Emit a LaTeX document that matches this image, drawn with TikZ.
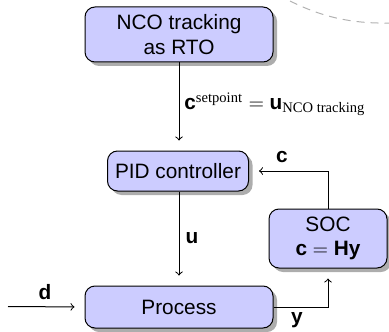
\documentclass[tikz,border=0pt]{standalone}
\usepackage{amsmath}
\usepackage{fontspec}
\setmainfont{Liberation Sans}
\newfontfamily\serifrm{Liberation Serif}
\usetikzlibrary{shadows}
\tikzset{
  blk/.style={draw=black, line width=0.5pt, fill=blue!20, rounded corners=5pt,
    inner sep=0pt, align=center,
    drop shadow={shadow xshift=2pt, shadow yshift=-2pt, fill=black!32, opacity=1}},
  arr/.style={->, line width=0.5pt, shorten >=5pt},
  lbl/.style={inner sep=0pt},
  dasharc/.style={draw=black!30, line width=0.5pt, dash pattern=on 4pt off 3pt}
}
\begin{document}
\begin{tikzpicture}[x=0.5pt, y=-0.5pt, font=\fontsize{10.4}{12.3}\selectfont]
\path[use as bounding box] (0,0) rectangle (389,331);
\draw[dasharc] (290,1) .. controls (322,17) and (352,24) .. (392,23);

\node[blk, minimum width=94pt, minimum height=27.5pt] (nco) at (179,34.5) {NCO tracking\\as RTO};
\node[blk, minimum width=70.5pt, minimum height=20pt] (pid) at (178,171) {PID controller};
\node[blk, minimum width=59pt, minimum height=29.5pt] (soc) at (328,238.5) {SOC\\$\textbf{c} = \textbf{Hy}$};
\node[blk, minimum width=94pt, minimum height=21pt] (proc) at (179,307) {Process};

\coordinate (din) at (8,306.5);

\draw[arr] (nco.south) -- (nco.south |- pid.north);
\draw[arr] (nco.south |- pid.south) -- (nco.south |- proc.north);
\draw[arr] (soc.north) |- (pid.east);
\draw[arr] (proc.east) -| (soc.south);
\draw[arr] (din) -- (proc.west);

\node[lbl, anchor=west] (lset) at (184,104) {$\textbf{c}^{\text{\serifrm setpoint}} = \textbf{u}_{\text{\serifrm NCO tracking}}$};
\node[lbl] (lc) at (282,157) {\textbf{c}};
\node[lbl] (lu) at (192,238) {\textbf{u}};
\node[lbl] (ld) at (45,292) {\textbf{d}};
\node[lbl] (ly) at (297,320) {\textbf{y}};
\end{tikzpicture}
\end{document}
